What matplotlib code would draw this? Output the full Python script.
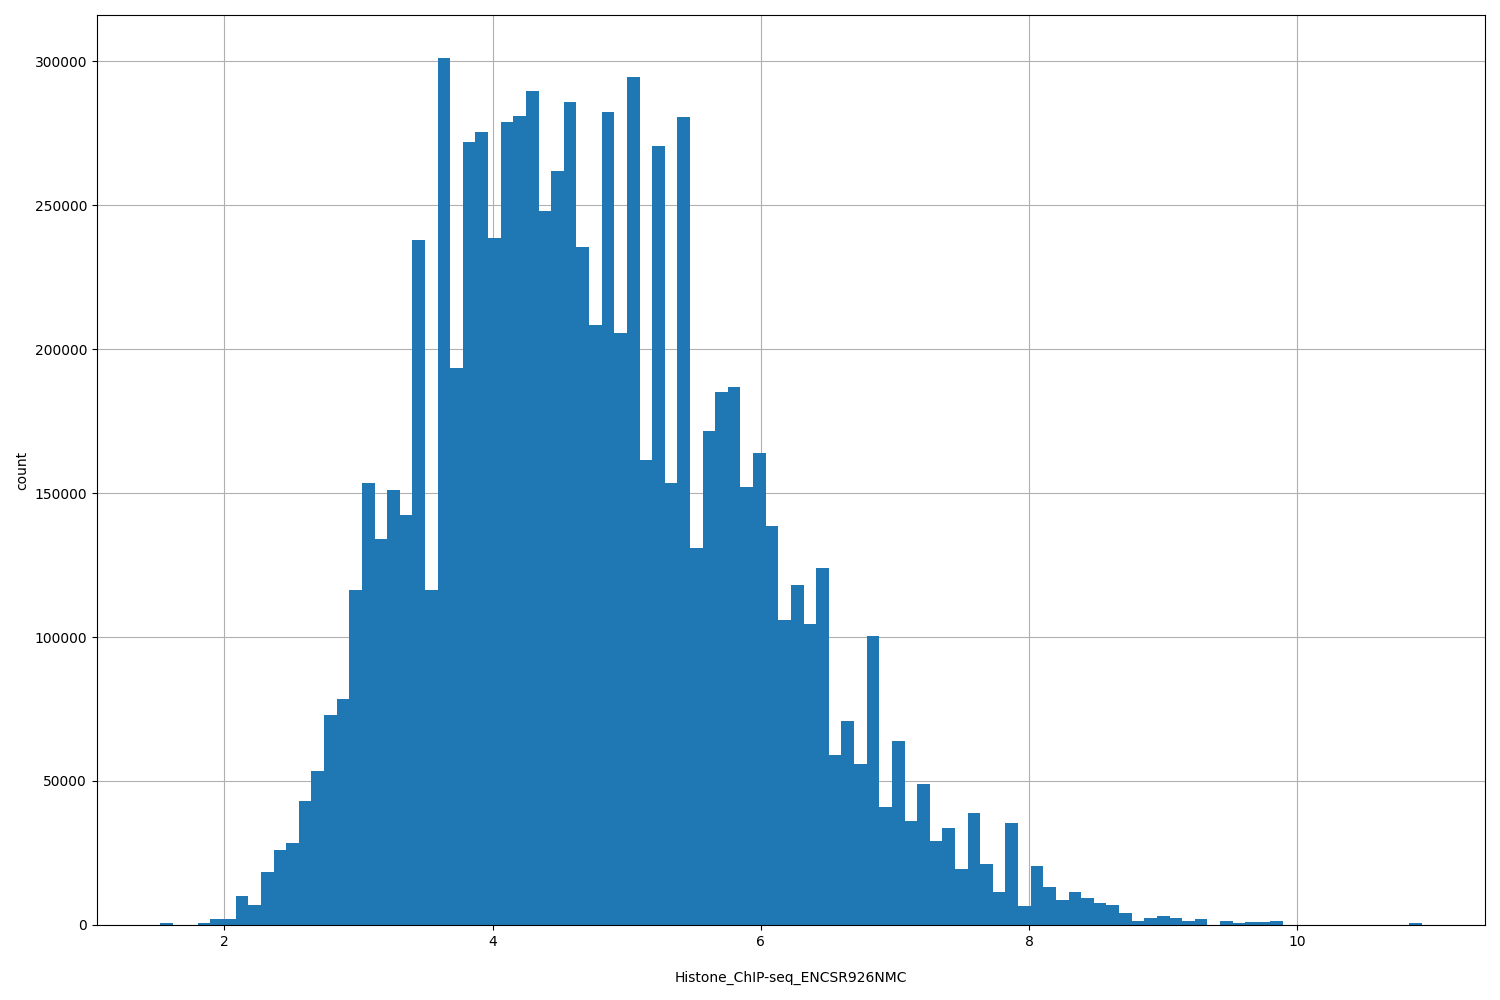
import numpy as np
import matplotlib
matplotlib.use("Agg")
import matplotlib.pyplot as plt

# histogram range and bin count
x_min = 1.52
x_max = 10.93
n_bins = 100

# counts per bin, left to right
counts = [
    800, 0, 0, 500, 2000, 2000, 10000, 7000, 18500, 26000,
    28500, 43000, 53500, 73000, 78500, 116500, 153500, 134000, 151000, 142500,
    238000, 116500, 301000, 193500, 272000, 275500, 238500, 279000, 281000, 289500,
    248000, 262000, 286000, 235500, 208500, 282500, 205500, 294500, 161500, 270500,
    153500, 280500, 131000, 171500, 185000, 187000, 152000, 164000, 138500, 106000,
    118000, 104500, 124000, 59000, 71000, 56000, 100500, 41000, 64000, 36000,
    49000, 29000, 33500, 19500, 39000, 21000, 11500, 35500, 6500, 20500,
    13000, 8500, 11500, 9500, 7500, 7000, 4000, 1500, 2500, 3000,
    2500, 1500, 2000, 0, 1200, 800, 1000, 1000, 1500, 0,
    0, 0, 0, 0, 0, 0, 0, 0, 0, 800,
]

edges = np.linspace(x_min, x_max, n_bins + 1)
centers = (edges[:-1] + edges[1:]) / 2

fig, ax = plt.subplots(figsize=(15, 10), dpi=100)
ax.hist(centers, bins=edges, weights=counts, color="#1f77b4")
ax.grid(True)
ax.set_axisbelow(True)
ax.set_xlabel("Histone_ChIP-seq_ENCSR926NMC", labelpad=16)
ax.set_ylabel("count")

plt.tight_layout()
plt.savefig("out.png")
